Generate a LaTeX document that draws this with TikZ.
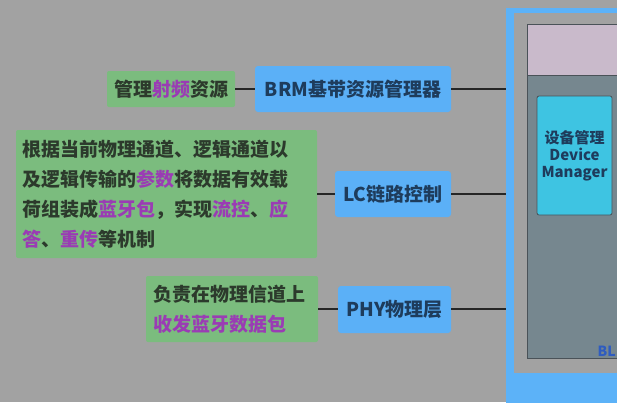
\documentclass[tikz,border=0pt]{standalone}
\usepackage{fontspec}
\newfontfamily\cjk{Noto Sans CJK SC}
\definecolor{bg}{HTML}{A2A2A2}
\definecolor{gbox}{HTML}{7BBC7E}
\definecolor{bbox}{HTML}{5BB0F7}
\definecolor{gtext}{HTML}{2C3A2C}
\definecolor{btext}{HTML}{1E3C5C}
\definecolor{purp}{HTML}{9A3CB4}
\definecolor{frameblue}{HTML}{5CB2F8}
\definecolor{pinkish}{HTML}{C9BACB}
\definecolor{slate}{HTML}{76878F}
\definecolor{edge}{HTML}{4A5258}
\definecolor{cyanbox}{HTML}{3EC4E2}
\definecolor{bltext}{HTML}{2E5CC0}
\newcommand{\hl}[1]{\textcolor{purp}{#1}}
\begin{document}
\begin{tikzpicture}[x=1pt,y=-1pt,
  greenbox/.style={fill=gbox, rounded corners=2pt, text=gtext, font=\cjk\bfseries\fontsize{19}{30}\selectfont, inner sep=0pt},
  bluebox/.style={fill=bbox, rounded corners=3pt, text=btext, font=\cjk\bfseries\fontsize{19}{22}\selectfont, inner sep=0pt},
  link/.style={line width=1.8pt, draw=black!85}]
\useasboundingbox (0,0) rectangle (617,402);
\fill[bg] (0,0) rectangle (617,402);
\begin{scope}
\clip (0,0) rectangle (617,402);
% right frame
\fill[frameblue] (506,8) rectangle (640,410);
\fill[bg] (514,13) rectangle (640,373);
\fill[slate] (527,24) rectangle (640,358);
\fill[pinkish] (527,24) rectangle (640,75);
\draw[edge, line width=1pt] (640,75) -- (527,75) -- (527,358) -- (640,358);
\draw[edge, line width=1pt] (527,75) -- (527,24) -- (640,24);
\node[fill=cyanbox, draw=edge, line width=0.8pt, rounded corners=2pt, minimum width=75pt, minimum height=119pt, inner sep=0pt,
      text=btext, font=\cjk\bfseries\fontsize{15}{17}\selectfont, align=center] (dm) at (574.5,155.5)
      {设备管理\\Device\\Manager};
\node[anchor=base east, text=bltext, font=\cjk\bfseries\fontsize{14}{16}\selectfont, inner sep=0pt] (bl) at (616,356) {BL};
\end{scope}
% left side
\node[greenbox, minimum width=128pt, minimum height=36pt] (g1) at (171,89) {管理\hl{射频}资源};
\node[bluebox, minimum width=196pt, minimum height=46pt] (brm) at (353,89) {BRM基带资源管理器};

\node[greenbox, text width=289pt, minimum height=128pt, inner xsep=6pt, align=left] (g2) at (166.5,194)
  {根据当前物理通道、逻辑通道以\\及逻辑传输的\hl{参数}将数据有效载\\荷组装成\hl{蓝牙包}，实现\hl{流控}、\hl{应}\\\hl{答}、\hl{重传}等机制};
\node[bluebox, minimum width=116pt, minimum height=46pt] (lc) at (393,194) {LC链路控制};

\node[greenbox, text width=158pt, minimum height=66pt, inner xsep=7pt, align=left] (g3) at (232,309)
  {负责在物理信道上\\\hl{收发蓝牙数据包}};
\node[bluebox, minimum width=113pt, minimum height=47pt] (phy) at (394.5,309.5) {PHY物理层};

\coordinate (e1) at (506,89);
\coordinate (e2) at (506,194);
\coordinate (e3) at (506,309);
\draw[link] (g1.east) -- (brm.west);
\draw[link] (brm.east) -- (e1);
\draw[link] (g2.east |- lc.west) -- (lc.west);
\draw[link] (lc.east) -- (e2);
\draw[link] (g3.east) -- (phy.west |- g3.east);
\draw[link] (phy.east |- g3.east) -- (e3);
\end{tikzpicture}
\end{document}
